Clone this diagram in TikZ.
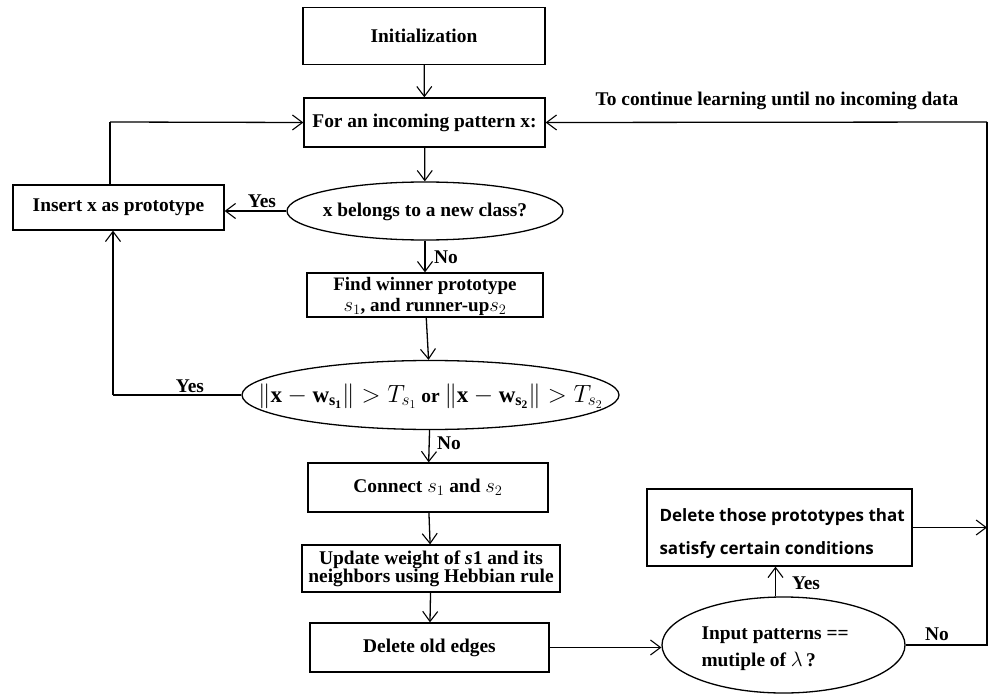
\documentclass[tikz,border=0pt]{standalone}
\usepackage{fontspec}
\setmainfont{Liberation Serif}
\newfontfamily\boxsans{Open Sans}
\usetikzlibrary{shapes.geometric,arrows.meta}
\newcommand{\lgmath}[2][23]{{\fontsize{#1}{#1}\selectfont$#2$}}
\begin{document}
\begin{tikzpicture}[x=1pt,y=-1pt,
  every node/.style={font=\bfseries\fontsize{19.4}{22}\selectfont},
  pbox/.style={draw,line width=1.3pt,rectangle,inner sep=0pt,align=center},
  dec/.style={draw,line width=1.3pt,ellipse,inner sep=0pt},
  conn/.style={line width=1.3pt,-{Straight Barb[length=10pt,width=15pt,line width=1.1pt]}},
  plain/.style={line width=1.3pt},
  lab/.style={inner sep=1pt}]
\useasboundingbox (0,0) rectangle (990,695);
\node[pbox,minimum width=242pt,minimum height=57pt] (init) at (424,36) {Initialization};
\node[pbox,minimum width=241pt,minimum height=49pt] (forp) at (424.5,122.5) {For an incoming pattern x:};
\node[pbox,minimum width=211pt,minimum height=45pt] (ins) at (118.5,207.5) {Insert x as prototype};
\node[dec,minimum width=276pt,minimum height=58pt] (e1) at (425,211) {};
\node (e1t) at (425,212) {x belongs to a new class?};
\node[pbox,minimum width=236pt,minimum height=44pt] (find) at (425,295) {};
\node[align=center,font=\bfseries\fontsize{19}{21}\selectfont] (findt) at (425,296) {Find winner prototype\\\lgmath[22]{s_1}, and runner-up\lgmath[22]{s_2}};
\node[dec,minimum width=377pt,minimum height=69pt] (e2) at (430.5,395) {};
\node (e2t) at (430.5,396) {\lgmath{\|\mathbf{x}-\mathbf{w}_{\mathbf{s_1}}\|>T_{s_1}} or \lgmath{\|\mathbf{x}-\mathbf{w}_{\mathbf{s_2}}\|>T_{s_2}}};
\node[pbox,minimum width=240pt,minimum height=49pt] (cn) at (428,487.5) {Connect \lgmath[22]{s_1} and \lgmath[22]{s_2}};
\node[pbox,minimum width=258pt,minimum height=47pt,font=\bfseries\fontsize{19.4}{20}\selectfont] (upd) at (431,568.5) {Update weight of \textit{s}1 and its\\[-2pt]neighbors using Hebbian rule};
\node[pbox,minimum width=239pt,minimum height=49pt] (del) at (429.5,647.5) {Delete old edges};
\node[dec,minimum width=243pt,minimum height=96pt] (e3) at (783.5,645) {};
\node[align=left,font=\bfseries\fontsize{19.4}{27}\selectfont,anchor=west] (e3t) at (698,649) {Input patterns ==\\mutiple of $\lambda$\,?};
\node[pbox,minimum width=265pt,minimum height=77pt] (dth) at (779.5,527.5) {};
\node[align=left,font=\boxsans\bfseries\fontsize{17}{33}\selectfont,anchor=west] (dtht) at (656,533.5) {Delete those prototypes that\\satisfy certain conditions};
\coordinate (rt) at (987,122);
\coordinate (lt) at (110,122);
\coordinate (yl) at (113,395);
% connectors
\draw[conn] (init) -- (forp);
\draw[conn] (forp) -- (e1);
\draw[conn] (e1.west) -- (e1.west -| ins.east);
\draw[conn] (e1) -- (find);
\draw[conn] (find) -- (e2);
\draw[conn] (e2) -- (cn);
\draw[conn] (cn) -- (upd);
\draw[conn] (upd) -- (del);
\draw[conn] (del.east) -- (del.east -| e3.west);
\draw[conn] ([xshift=-8pt]e3.north) -- ([xshift=-4pt]dth.south);
\draw[plain] (ins.north -| lt) -- (lt);
\draw[conn] (lt) -- (forp.west);
\draw[plain] (e2.west) -- (yl);
\draw[conn] (yl) -- (yl |- ins.south);
\draw[plain] (e3.east) -- (e3.east -| rt) -- (rt);
\draw[conn] (rt) -- (forp.east);
\draw[conn] (dth.east) -- (dth.east -| rt);
% labels
\node[lab] (l1) at (262,201) {Yes};
\node[lab] (l2) at (446,257) {No};
\node[lab] (l3) at (190,386) {Yes};
\node[lab] (l4) at (449,443) {No};
\node[lab] (l5) at (806,583) {Yes};
\node[lab] (l6) at (937,634) {No};
\node[lab] (l7) at (777,101) {To continue learning until no incoming data};
\end{tikzpicture}
\end{document}
